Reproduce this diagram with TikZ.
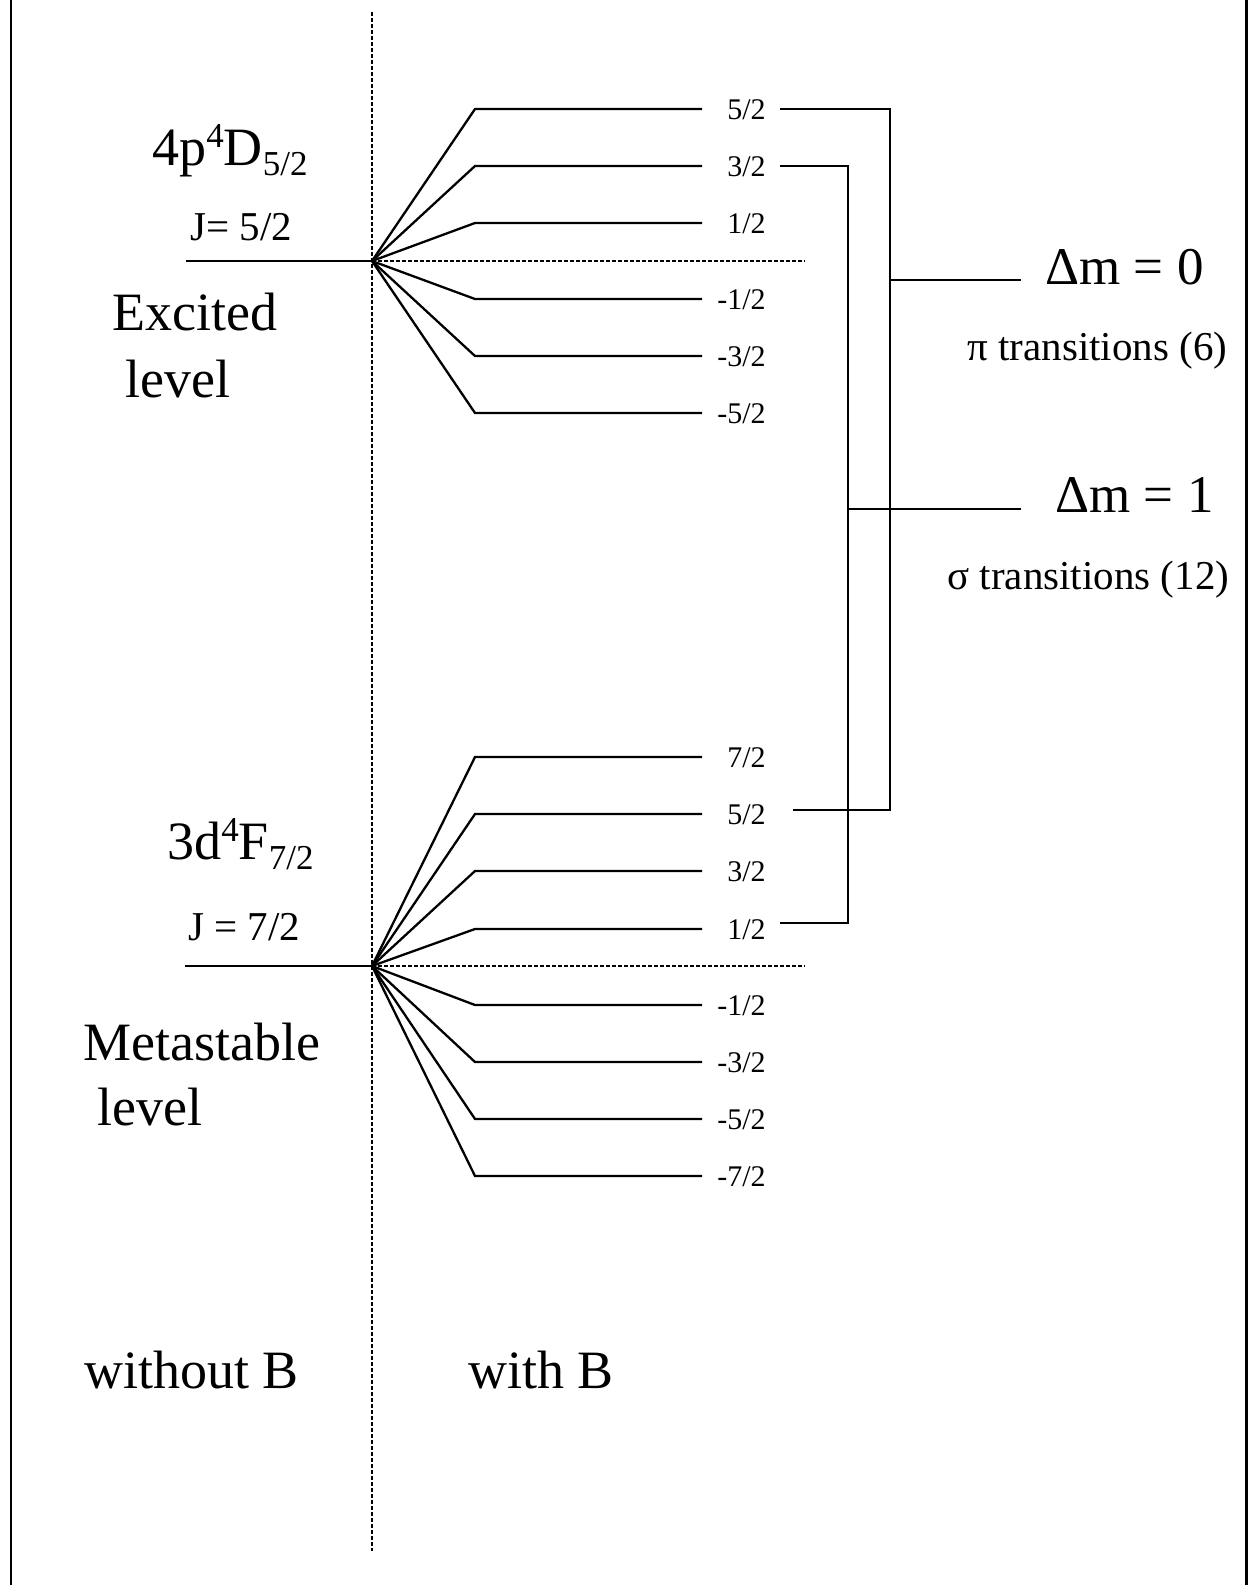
\documentclass[tikz,border=0pt]{standalone}
\usepackage{fontspec}
\setmainfont{Liberation Serif}
% term symbol: main part, raised superscript, letter, lowered subscript
\newcommand\smallpart{\fontsize{17.5}{20}\selectfont}
\newcommand\termsym[4]{#1\raisebox{.33em}{\smallpart #2}#3\raisebox{-.19em}{\smallpart #4}}
\begin{document}
\begin{tikzpicture}[x=0.5pt,y=-0.5pt,
  lvl/.style={line width=1.15pt},
  guide/.style={line width=1.4pt, dash pattern=on 2pt off 1pt},
  txt/.style={inner sep=0pt, anchor=base west},
  big/.style={txt, font=\fontsize{27}{32}\selectfont},
  mid/.style={txt, font=\fontsize{20.5}{24}\selectfont},
  dm/.style={txt, font=\fontsize{26.5}{30}\selectfont},
  mlab/.style={inner sep=0pt, anchor=base east, font=\fontsize{15}{18}\selectfont}]
\useasboundingbox (0,0) rectangle (1249,1585);

% side rules of the frame
\coordinate (fl1) at (11,0);   \coordinate (fl2) at (11,1585);
\coordinate (fr1) at (1246,0); \coordinate (fr2) at (1246,1585);
\draw[line width=1pt] (fl1) -- (fl2);
\draw[line width=1.5pt] (fr1) -- (fr2);

% dotted separator between "without B" and "with B"
\coordinate (axTop) at (372,12);
\coordinate (axBot) at (372,1551);
\draw[guide] (axTop) -- (axBot);

% ---------- excited level 4p 4D5/2, J = 5/2 ----------
\coordinate (up) at (372,261);
\coordinate (upL) at (186,261);
\coordinate (upD) at (805,261);
\draw[lvl] (upL) -- (up);
\draw[guide] (up) -- (upD);
\foreach \y/\n/\a in {109/u5/5, 166/u3/3, 223/u1/1, 299/um1/-1, 356/um3/-3, 413/um5/-5}{
  \coordinate (\n s) at (475,\y);
  \coordinate (\n e) at (702,\y);
  \draw[lvl] (up) -- (\n s) -- (\n e);
  \node[mlab] (\n l) at (766,{\y+10}) {\a/2};
}
\node[big] (termU) at (152,165) {\termsym{4p}{4}{D}{5/2}};
\node[mid] (jU) at (190,240) {J= 5/2};
\node[big] (exc1) at (112,330) {Excited};
\node[big] (exc2) at (125,397) {level};

% ---------- metastable level 3d 4F7/2, J = 7/2 ----------
\coordinate (lo) at (372,966);
\coordinate (loL) at (185,966);
\coordinate (loD) at (805,966);
\draw[lvl] (loL) -- (lo);
\draw[guide] (lo) -- (loD);
\foreach \y/\n/\a in {757/l7/7, 814/l5/5, 871/l3/3, 929/l1/1, 1005/lm1/-1, 1062/lm3/-3, 1119/lm5/-5, 1176/lm7/-7}{
  \coordinate (\n s) at (475,\y);
  \coordinate (\n e) at (702,\y);
  \draw[lvl] (lo) -- (\n s) -- (\n e);
  \node[mlab] (\n l) at (766,{\y+10}) {\a/2};
}
\node[big] (termL) at (167,859) {\termsym{3d}{4}{F}{7/2}};
\node[mid] (jL) at (188,940) {J = 7/2};
\node[big] (met1) at (83,1060) {Metastable};
\node[big] (met2) at (97,1125) {level};

% ---------- field labels ----------
\node[big] (woB) at (84,1388) {without B};
\node[big] (wB) at (468,1388) {with B};

% ---------- pi transitions: 5/2 -> 5/2 ----------
\coordinate (pa1) at (780,109);
\coordinate (piTop) at (890,109);
\coordinate (piBot) at (890,810);
\coordinate (pa2) at (793,810);
\coordinate (piMid) at (890,280);
\coordinate (piEnd) at (1021,280);
\draw[lvl] (pa1) -- (piTop) -- (piBot) -- (pa2);
\draw[lvl] (piMid) -- (piEnd);
\node[dm] (dm0) at (1045,284) {Δm = 0};
\node[mid] (piT) at (967,360) {π transitions (6)};

% ---------- sigma transitions: 3/2 -> 1/2 ----------
\coordinate (sa1) at (780,166);
\coordinate (sTop) at (848,166);
\coordinate (sBot) at (848,923);
\coordinate (sa2) at (780,923);
\coordinate (sMid) at (848,509);
\coordinate (sEnd) at (1021,509);
\draw[lvl] (sa1) -- (sTop) -- (sBot) -- (sa2);
\draw[lvl] (sMid) -- (sEnd);
\node[dm] (dm1) at (1055,512) {Δm = 1};
\node[mid] (sgT) at (947,589) {σ transitions (12)};
\end{tikzpicture}
\end{document}
